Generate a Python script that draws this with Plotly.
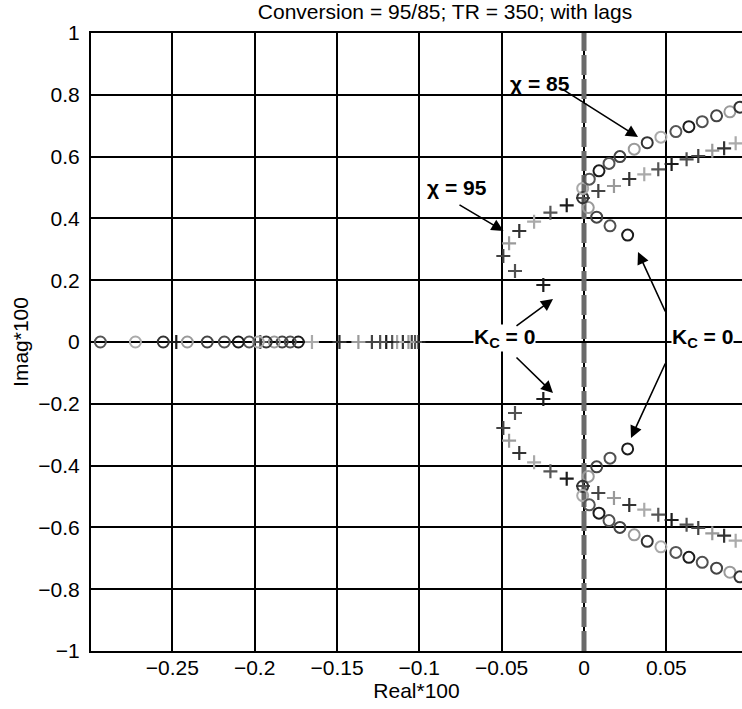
import plotly.graph_objects as go

# ---- data (Real*100, Imag*100), ordered from Kc = 0 outward ----
# chi = 85 (circles): complex branch (upper half; lower half is conjugate)
c85_re = [0.0265, 0.0158, 0.0077, 0.0026, -0.0008, -0.0008, 0.0032, 0.0091, 0.0152, 0.0218,
          0.0305, 0.0384, 0.0467, 0.0558, 0.0637, 0.0718, 0.0805, 0.0886, 0.0947]
c85_im = [0.346, 0.376, 0.404, 0.435, 0.467, 0.497, 0.527, 0.554, 0.578, 0.600,
          0.624, 0.645, 0.663, 0.681, 0.697, 0.713, 0.732, 0.745, 0.760]
# chi = 85 (circles): real pole
r85_re = [-0.1735, -0.1784, -0.1833, -0.1881, -0.1930, -0.1978, -0.2033, -0.2099, -0.2184,
          -0.2288, -0.2409, -0.2555, -0.2724, -0.2937]

# chi = 95 (pluses): complex branch (upper half)
c95_re = [-0.0247, -0.0419, -0.0490, -0.0455, -0.0393, -0.0303, -0.0204, -0.0105, -0.0006, 0.0087,
          0.0182, 0.0275, 0.0366, 0.0451, 0.0532, 0.0623, 0.0694, 0.0779, 0.0851, 0.0921]
c95_im = [0.1845, 0.2298, 0.2783, 0.3194, 0.3592, 0.3893, 0.4184, 0.4424, 0.466, 0.4887,
          0.5049, 0.5275, 0.5427, 0.5589, 0.5761, 0.5913, 0.6019, 0.6191, 0.6269, 0.6430]
# chi = 95 (pluses): real pole
r95_re = [-0.1005, -0.1026, -0.1046, -0.1066, -0.1100, -0.1135, -0.1165, -0.1201, -0.1238,
          -0.1288, -0.1370, -0.1485, -0.1652, -0.1966, -0.2476]

x_ticks = [-0.25, -0.2, -0.15, -0.1, -0.05, 0, 0.05]
y_ticks = [-1, -0.8, -0.6, -0.4, -0.2, 0, 0.2, 0.4, 0.6, 0.8, 1]

# grey levels of a 7-colour cycle (one colour per gain value)
GREYS = ['#1c1c1c', '#505050', '#444444', '#9a9a9a', '#333333', '#aaaaaa', '#555555']


def cyc(n):
    return [GREYS[i % len(GREYS)] for i in range(n)]


FONT = "Liberation Sans, Arial, Helvetica, sans-serif"
FS = 21

fig = go.Figure()


def add_series(cre, cim, rre, symbol, size, lw):
    xs = list(cre) + list(cre) + list(rre)
    ys = list(cim) + [-v for v in cim] + [0.0] * len(rre)
    cols = cyc(len(cre)) + cyc(len(cre)) + cyc(len(rre))
    fig.add_trace(go.Scatter(
        x=xs, y=ys, mode="markers", showlegend=False, hoverinfo="skip",
        marker=dict(symbol=symbol, size=size, color=cols,
                    line=dict(width=lw, color=cols))))


add_series(c95_re, c95_im, r95_re, "cross-thin", 10, 2.2)
add_series(c85_re, c85_im, r85_re, "circle-open", 11, 2)

# dashed imaginary axis (drawn over the grid, under the markers)
fig.add_shape(type="line", xref="x", yref="y", x0=0, x1=0, y0=-1, y1=1,
              line=dict(color="#6a6a6a", width=5, dash="20px,4px"), layer="between")

# ---- annotations ----
def px2x(p):
    return (p - 584) / 1646.7


def py2y(p):
    return (342 - p) / 309.0


def arrow(x0, y0, x1, y1):
    fig.add_annotation(x=px2x(x1), y=py2y(y1), ax=px2x(x0), ay=py2y(y0),
                       xref="x", yref="y", axref="x", ayref="y", text="",
                       showarrow=True, arrowhead=2, arrowsize=1.5, arrowwidth=1.6,
                       arrowcolor="black")


def label(txt, cx, cy, bg=None):
    fig.add_annotation(x=px2x(cx), y=py2y(cy), xref="x", yref="y", text=txt,
                       showarrow=False, font=dict(family=FONT, size=FS, color="black"),
                       bgcolor=bg, borderpad=0)


label("<b>χ = 85</b>", 540, 83)
arrow(562, 89, 638, 137)
label("<b>χ = 95</b>", 457, 187)
arrow(458, 204, 503.5, 231)
label("<b>K<sub>C</sub> = 0</b>", 504, 338, "white")
arrow(515, 327, 553, 299)
arrow(515, 356, 553, 393)
label("<b>K<sub>C</sub> = 0</b>", 702, 338, "white")
arrow(666, 313, 638, 252)
arrow(666, 362, 631, 438)

axis_common = dict(showgrid=True, gridcolor="black", gridwidth=2,
                   showline=True, linecolor="black", linewidth=2,
                   ticks="", tickfont=dict(family=FONT, size=FS, color="black"),
                   title_font=dict(family=FONT, size=FS, color="black"))

fig.update_layout(
    width=742, height=709,
    margin=dict(l=91, r=0, t=33, b=58),
    paper_bgcolor="white", plot_bgcolor="white",
    title=dict(text="Conversion = 95/85; TR = 350; with lags",
               x=445 / 742, xanchor="center", xref="container",
               y=1 - 12 / 709, yanchor="middle",
               font=dict(family=FONT, size=FS, color="black")),
    xaxis=dict(range=[px2x(91), px2x(742)], tickvals=x_ticks,
               ticktext=[("−" + str(abs(v))) if v < 0 else str(v) for v in x_ticks],
               zeroline=False, mirror=True, ticklabelstandoff=-3,
               title=dict(text="Real*100", standoff=2), **axis_common),
    yaxis=dict(range=[-1, 1], tickvals=y_ticks,
               ticktext=[("−" + ("%g" % abs(v))) if v < 0 else ("%g" % v) for v in y_ticks],
               zeroline=True, zerolinecolor="black", zerolinewidth=2,
               ticklabelstandoff=5,
               title=dict(text="Imag*100", standoff=4), **axis_common),
)

fig.write_html("out.html")
